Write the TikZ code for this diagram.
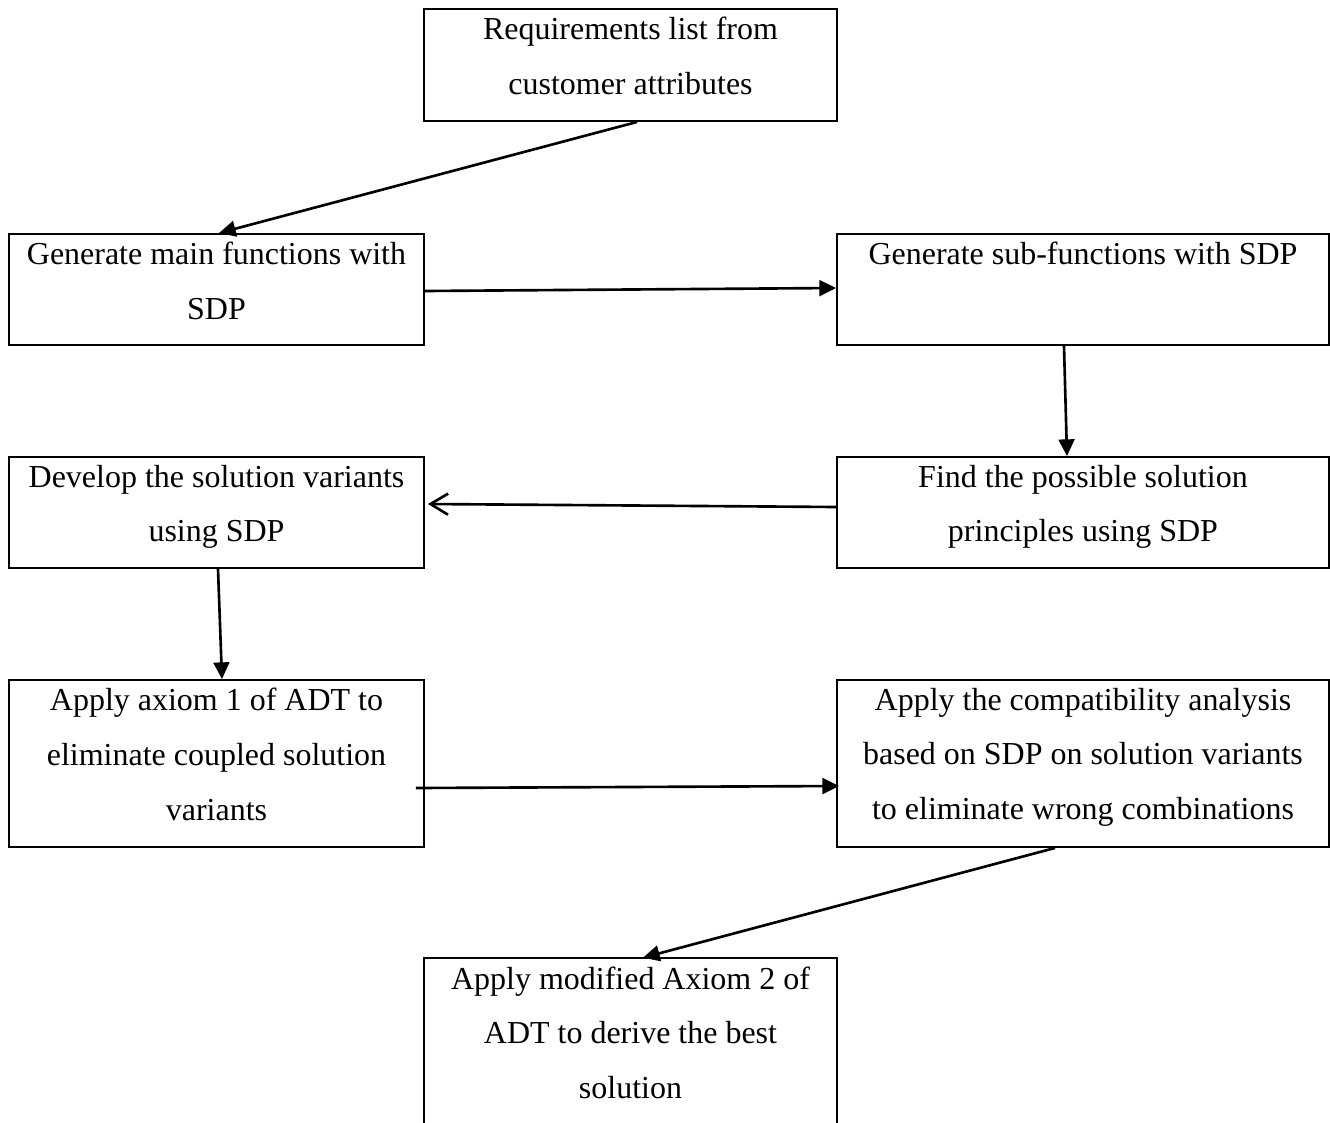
\documentclass[tikz,border=0pt]{standalone}
\usepackage{fontspec}
\setmainfont{Liberation Serif}
\usetikzlibrary{arrows.meta,calc}
\begin{document}
\begin{tikzpicture}[x=0.02cm,y=-0.02cm,
  box/.style={draw, line width=1.1pt, rectangle, inner sep=0pt},
  boxtext/.style={anchor=north, inner sep=0pt, align=center,
    font=\fontsize{18.2}{31.2}\selectfont},
  link/.style={line width=1.5pt, -{Triangle[length=9.5pt,width=9pt]}},
  openlink/.style={line width=1.5pt, -{Straight Barb[length=10pt,width=12pt]}}
]
\useasboundingbox (0,0) rectangle (1330,1123);

% process boxes
\node[box, minimum width=8.26cm, minimum height=2.24cm] (req) at (630.5,65) {};
\node[box, minimum width=8.3cm, minimum height=2.22cm] (main) at (216.5,289.5) {};
\node[box, minimum width=9.84cm, minimum height=2.22cm] (sub) at (1083,289.5) {};
\node[box, minimum width=8.3cm, minimum height=2.22cm] (dev) at (216.5,512.5) {};
\node[box, minimum width=9.84cm, minimum height=2.22cm] (find) at (1083,512.5) {};
\node[box, minimum width=8.3cm, minimum height=3.34cm] (ax1) at (216.5,763.5) {};
\node[box, minimum width=9.84cm, minimum height=3.34cm] (compat) at (1083,763.5) {};
\node[inner sep=0pt, minimum width=8.26cm, minimum height=3.3cm] (ax2) at (630.5,1040.5) {};
\draw[line width=1.1pt] (ax2.south west) -- (ax2.north west) -- (ax2.north east) -- (ax2.south east);

% box texts, set from the top edge of each box
\node[boxtext] (reqtext) at ($(req.north)+(0,8.5)$) {Requirements list from\\customer attributes};
\node[boxtext] (maintext) at ($(main.north)+(0,8.5)$) {Generate main functions with\\SDP};
\node[boxtext] (subtext) at ($(sub.north)+(0,8.5)$) {Generate sub-functions with SDP};
\node[boxtext] (devtext) at ($(dev.north)+(0,8.5)$) {Develop the solution variants\\using SDP};
\node[boxtext] (findtext) at ($(find.north)+(0,8.5)$) {Find the possible solution\\principles using SDP};
\node[boxtext] (ax1text) at ($(ax1.north)+(0,8.5)$) {Apply axiom 1 of ADT to\\eliminate coupled solution\\variants};
\node[boxtext] (compattext) at ($(compat.north)+(0,8.5)$) {Apply the compatibility analysis\\based on SDP on solution variants\\to eliminate wrong combinations};
\node[boxtext] (ax2text) at ($(ax2.north)+(0,8.5)$) {Apply modified Axiom 2 of\\ADT to derive the best\\solution};

% connectors
\draw[link] ($(req.south)+(6.5,0)$) -- ($(main.north)+(2.5,0)$);
\draw[link] ($(main.east)+(0,1.5)$) -- ($(sub.west)+(0,-1.5)$);
\draw[link] ($(sub.south)+(-19,0)$) -- ($(find.north)+(-16,0)$);
\draw[openlink] ($(find.west)+(0,-5.5)$) -- ($(dev.east)+(3,-8.5)$);
\draw[link] ($(dev.south)+(1.5,0)$) -- ($(ax1.north)+(5.5,0)$);
\draw[link] ($(ax1.east)+(-9,24.5)$) -- ($(compat.west)+(3,22.5)$);
\draw[link] ($(compat.south)+(-28,0)$) -- ($(ax2.north)+(12.5,0)$);
\end{tikzpicture}
\end{document}
